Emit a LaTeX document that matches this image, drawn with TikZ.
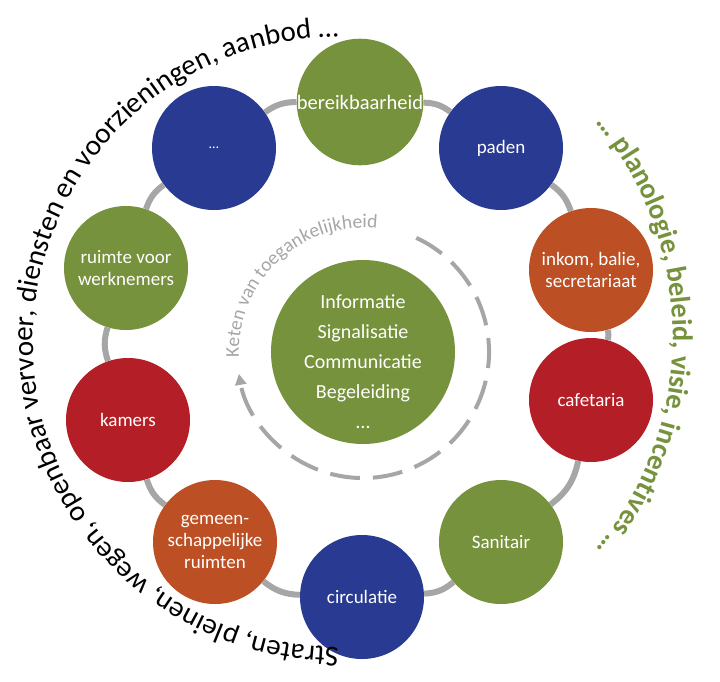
\documentclass[tikz,border=0pt]{standalone}
\usepackage{fontspec}
\setmainfont{Carlito}
\usetikzlibrary{arrows.meta}
\usetikzlibrary{decorations.text}

\definecolor{olivegreen}{RGB}{118,146,60}
\definecolor{royalblue}{RGB}{40,58,145}
\definecolor{deepred}{RGB}{180,30,38}
\definecolor{rustorange}{RGB}{188,79,36}
\definecolor{ringgray}{RGB}{166,166,166}

\tikzset{
  spot/.style={circle, minimum size=124pt, inner sep=0pt, text=white, align=center,
    font=\fontsize{19}{22}\selectfont},
  ring/.style={line width=6pt, draw=ringgray},
}

\begin{document}
\begin{tikzpicture}[x=1pt, y=1pt]
\useasboundingbox (0,0) rectangle (720,-681);

% --- CENTRES ---
\coordinate (infoc)  at (363,-352);
\coordinate (leftc)  at (338,-342);
\coordinate (rightc) at (340,-336);

% --- RING OF SPACES ---
\node[spot, fill=olivegreen, font=\fontsize{20.5}{22}\selectfont] (bereik) at (360,-102) {bereikbaarheid};
\node[spot, fill=royalblue]  (paden)  at (501,-148) {paden};
\node[spot, fill=rustorange] (inkom)  at (591,-270) {inkom, balie,\\secretariaat};
\node[spot, fill=deepred]    (cafe)   at (591,-400) {cafetaria};
\node[spot, fill=olivegreen] (sanit)  at (501,-542) {Sanitair};
\node[spot, fill=royalblue]  (circ)   at (362,-597) {circulatie};
\node[spot, fill=rustorange] (gemeen) at (215,-542) {gemeen-\\schappelijke\\ruimten};
\node[spot, fill=deepred]    (kamers) at (128,-420) {kamers};
\node[spot, fill=olivegreen] (ruimte) at (126,-268) {ruimte voor\\werknemers};
\node[spot, fill=royalblue, font=\fontsize{14}{16}\selectfont] (etc) at (214,-148) {…};

% Connecting ring (gray arcs)
\draw[ring] (bereik) to[bend left=17.5] (paden);
\draw[ring] (paden)  to[bend left=17.5] (inkom);
\draw[ring] (inkom)  to[bend left=15.5] (cafe);
\draw[ring] (cafe)   to[bend left=20.5] (sanit);
\draw[ring] (sanit)  to[bend left=18.5] (circ);
\draw[ring] (circ)   to[bend left=18.5] (gemeen);
\draw[ring] (gemeen) to[bend left=18] (kamers);
\draw[ring] (kamers) to[bend left=18] (ruimte);
\draw[ring] (ruimte) to[bend left=17.5] (etc);
\draw[ring] (etc)    to[bend left=17.5] (bereik);

% --- CHAIN OF ACCESSIBILITY (centre) ---
\node[circle, fill=olivegreen, minimum size=184pt, inner sep=0pt, text=white,
      font=\fontsize{20}{30}\selectfont] (info) at (infoc)
  {\raisebox{-16pt}[0pt][0pt]{\begin{tabular}{@{}c@{}}Informatie\\Signalisatie\\Communicatie\\Begeleiding\\…\end{tabular}}};

\draw[ringgray, line width=4pt, dash pattern=on 30pt off 13pt,
      -{Triangle[length=11pt, width=11pt]}]
  (infoc) ++(65:126) arc[start angle=65, end angle=-170, radius=126pt];

\path[decorate, decoration={text along path, text align=center, text color=ringgray,
      text={|\fontsize{19.5}{19.5}\selectfont|Keten van toegankelijkheid}}]
  (infoc) ++(198:124) arc[start angle=198, end angle=68, radius=124pt];

% --- OUTER CONTEXT ---
\path[decorate, decoration={text along path, text align=center, text color=black,
      text={|\fontsize{29}{29}\selectfont|Straten, pleinen, wegen, openbaar vervoer, diensten en voorzieningen, aanbod …}}]
  (leftc) ++(-78:305) arc[start angle=-78, end angle=-282, radius=305pt];

\path[decorate, decoration={text along path, text align=center, text color=olivegreen,
      text={|\fontsize{28.4}{28.4}\selectfont\bfseries|… planologie, beleid, visie, incentives …}}]
  (rightc) ++(50:333) arc[start angle=50, end angle=-50, radius=333pt];

\end{tikzpicture}
\end{document}
